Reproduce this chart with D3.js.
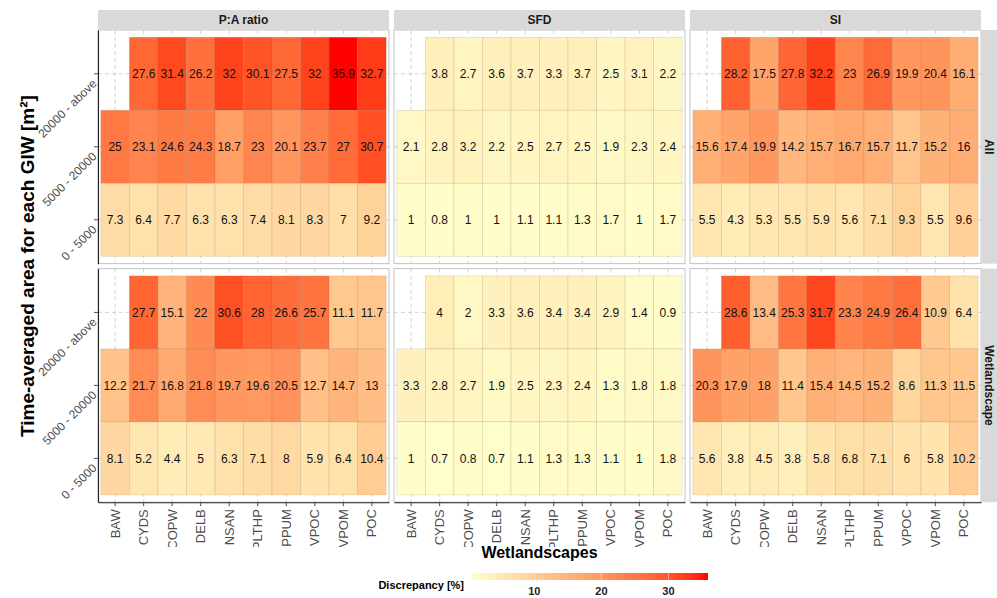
<!DOCTYPE html>
<html>
<head>
<meta charset="utf-8">
<script src="https://cdn.jsdelivr.net/npm/d3@7"></script>
<style>
  body { margin: 0; background: #fff; }
  svg { font-family: "Liberation Sans", Arial, sans-serif; display: block; }
</style>
</head>
<body>
<div id="chart"></div>
<script>
// Discrepancy heatmap, faceted by metric (columns) and group (rows)

const wetlandscapes = ["BAW", "CYDS", "COPW", "DELB", "NSAN", "PLTHP", "PPUM", "VPOC", "VPOM", "POC"];
const areaClasses = ["20000 - above", "5000 - 20000", "0 - 5000"]; // top to bottom
const metrics = ["P:A ratio", "SFD", "SI"];
const groups = ["All", "Wetlandscape"];
const legendTicks = [10, 20, 30];

// values per area class, in the wetlandscapes order (null = no tile)
const allPA = [
  [null, 27.6, 31.4, 26.2, 32, 30.1, 27.5, 32, 35.9, 32.7],
  [25, 23.1, 24.6, 24.3, 18.7, 23, 20.1, 23.7, 27, 30.7],
  [7.3, 6.4, 7.7, 6.3, 6.3, 7.4, 8.1, 8.3, 7, 9.2]
];
const allSFD = [
  [null, 3.8, 2.7, 3.6, 3.7, 3.3, 3.7, 2.5, 3.1, 2.2],
  [2.1, 2.8, 3.2, 2.2, 2.5, 2.7, 2.5, 1.9, 2.3, 2.4],
  [1, 0.8, 1, 1, 1.1, 1.1, 1.3, 1.7, 1, 1.7]
];
const allSI = [
  [null, 28.2, 17.5, 27.8, 32.2, 23, 26.9, 19.9, 20.4, 16.1],
  [15.6, 17.4, 19.9, 14.2, 15.7, 16.7, 15.7, 11.7, 15.2, 16],
  [5.5, 4.3, 5.3, 5.5, 5.9, 5.6, 7.1, 9.3, 5.5, 9.6]
];
const wlPA = [
  [null, 27.7, 15.1, 22, 30.6, 28, 26.6, 25.7, 11.1, 11.7],
  [12.2, 21.7, 16.8, 21.8, 19.7, 19.6, 20.5, 12.7, 14.7, 13],
  [8.1, 5.2, 4.4, 5, 6.3, 7.1, 8, 5.9, 6.4, 10.4]
];
const wlSFD = [
  [null, 4, 2, 3.3, 3.6, 3.4, 3.4, 2.9, 1.4, 0.9],
  [3.3, 2.8, 2.7, 1.9, 2.5, 2.3, 2.4, 1.3, 1.8, 1.8],
  [1, 0.7, 0.8, 0.7, 1.1, 1.3, 1.3, 1.1, 1, 1.8]
];
const wlSI = [
  [null, 28.6, 13.4, 25.3, 31.7, 23.3, 24.9, 26.4, 10.9, 6.4],
  [20.3, 17.9, 18, 11.4, 15.4, 14.5, 15.2, 8.6, 11.3, 11.5],
  [5.6, 3.8, 4.5, 3.8, 5.8, 6.8, 7.1, 6, 5.8, 10.2]
];

const panelData = {
  "All": { "P:A ratio": allPA, "SFD": allSFD, "SI": allSI },
  "Wetlandscape": { "P:A ratio": wlPA, "SFD": wlSFD, "SI": wlSI }
};

// long table of tiles
const tiles = [];
groups.forEach(g => metrics.forEach(m => {
  panelData[g][m].forEach((row, ri) => row.forEach((v, ci) => {
    if (v !== null) tiles.push({ group: g, metric: m, area: areaClasses[ri], site: wetlandscapes[ci], value: v });
  }));
}));

const W = 997, H = 598;
const svg = d3.select("#chart").append("svg").attr("width", W).attr("height", H);

// layout
const p_l = 98, p_t = 30, stripH = 20;
const panelW = 291, panelH = 233.6, gap = 5;
const panelX = metrics.map((m, i) => p_l + i * (panelW + gap));
const panelY = groups.map((g, i) => p_t + i * (panelH + gap));
const rightEdge = panelX[2] + panelW;
const bottomEdge = panelY[1] + panelH;

const xScale = d3.scaleBand().domain(wetlandscapes).range([0, panelW]).paddingInner(0).paddingOuter(0.1);
const yScale = d3.scaleBand().domain(areaClasses).range([0, panelH]).paddingInner(0).paddingOuter(0.1);

const vmin = d3.min(tiles, d => d.value), vmax = d3.max(tiles, d => d.value);
const color = d3.scaleLinear().domain([vmin, vmax]).range(["#FFFFCC", "#FF0000"]).interpolate(d3.interpolateLab);

const grey = "#4d4d4d";

// clip for x tick labels (cut at the bottom like the original)
svg.append("defs").append("clipPath").attr("id", "xclip")
  .append("rect").attr("x", 0).attr("y", 0).attr("width", W).attr("height", 547);

// panels
groups.forEach((g, gi) => metrics.forEach((m, mi) => {
  const panel = svg.append("g").attr("transform", `translate(${panelX[mi]},${panelY[gi]})`);
  panel.append("rect").attr("width", panelW).attr("height", panelH).attr("fill", "#fff");

  // dashed grid
  panel.selectAll(".gx").data(wetlandscapes).enter().append("line")
    .attr("x1", d => xScale(d) + xScale.bandwidth() / 2).attr("x2", d => xScale(d) + xScale.bandwidth() / 2)
    .attr("y1", 0).attr("y2", panelH)
    .attr("stroke", "#c8c8c8").attr("stroke-width", 0.8).attr("stroke-dasharray", "4,3");
  panel.selectAll(".gy").data(areaClasses).enter().append("line")
    .attr("y1", d => yScale(d) + yScale.bandwidth() / 2).attr("y2", d => yScale(d) + yScale.bandwidth() / 2)
    .attr("x1", 0).attr("x2", panelW)
    .attr("stroke", "#c8c8c8").attr("stroke-width", 0.8).attr("stroke-dasharray", "4,3");

  const sub = tiles.filter(d => d.group === g && d.metric === m);
  panel.selectAll(".tile").data(sub).enter().append("rect")
    .attr("x", d => xScale(d.site)).attr("y", d => yScale(d.area))
    .attr("width", xScale.bandwidth()).attr("height", yScale.bandwidth())
    .attr("fill", d => color(d.value))
    .attr("stroke", "rgba(120,80,40,0.2)").attr("stroke-width", 0.7);

  panel.selectAll(".lab").data(sub).enter().append("text")
    .attr("x", d => xScale(d.site) + xScale.bandwidth() / 2)
    .attr("y", d => yScale(d.area) + yScale.bandwidth() / 2)
    .attr("dy", "0.36em").attr("text-anchor", "middle")
    .attr("font-size", 12).attr("fill", "#111")
    .text(d => d.value);

  panel.append("rect").attr("width", panelW).attr("height", panelH)
    .attr("fill", "none").attr("stroke", "#c4c4c4").attr("stroke-width", 1);

  // left axis on first column
  if (mi === 0) {
    const ax = panel.append("g").call(d3.axisLeft(yScale).tickSize(4).tickSizeOuter(0).tickPadding(2));
    ax.select(".domain").attr("stroke", "#222").attr("stroke-width", 1.1);
    ax.selectAll(".tick line").attr("stroke", grey);
    ax.selectAll(".tick text")
      .attr("fill", grey).attr("font-size", 12).attr("font-family", "Liberation Sans, Arial, sans-serif")
      .attr("text-anchor", "end").attr("dy", "0.4em")
      .attr("x", -4).attr("y", 7)
      .attr("transform", "rotate(-45,-4,7)");
  }
  // bottom axis on last row
  if (gi === 1) {
    const ax = panel.append("g").attr("transform", `translate(0,${panelH})`)
      .call(d3.axisBottom(xScale).tickSize(4).tickSizeOuter(0).tickPadding(2));
    ax.select(".domain").attr("stroke", "#222").attr("stroke-width", 1.1);
    ax.selectAll(".tick line").attr("stroke", grey);
    ax.selectAll(".tick text")
      .attr("fill", grey).attr("font-size", 13).attr("font-family", "Liberation Sans, Arial, sans-serif")
      .attr("text-anchor", "end").attr("dy", "0.35em").attr("y", 0)
      .attr("transform", "translate(0,7) rotate(-90)");
  }
}));

// move x tick labels under a clip
const xlabs = svg.append("g").attr("clip-path", "url(#xclip)");
svg.selectAll("g.tick text").each(function () {
  const t = this;
  if (t.getAttribute("transform") && t.getAttribute("transform").includes("rotate(-90)")) {
    const ctm = t.parentNode.getCTM();
    const wrap = xlabs.append("g").attr("transform", `translate(${ctm.e},${ctm.f})`);
    wrap.node().appendChild(t);
  }
});

// top strips
metrics.forEach((m, mi) => {
  svg.append("rect").attr("x", panelX[mi]).attr("y", p_t - stripH)
    .attr("width", panelW).attr("height", stripH).attr("fill", "#d9d9d9");
  svg.append("text").attr("x", panelX[mi] + panelW / 2).attr("y", p_t - stripH / 2)
    .attr("dy", "0.35em").attr("text-anchor", "middle")
    .attr("font-size", 12).attr("font-weight", "bold").attr("fill", "#1a1a1a").text(m);
});

// right strips
groups.forEach((g, gi) => {
  svg.append("rect").attr("x", rightEdge).attr("y", panelY[gi])
    .attr("width", 20).attr("height", panelH).attr("fill", "#d9d9d9");
  svg.append("text")
    .attr("transform", `translate(${rightEdge + 8.5},${panelY[gi] + panelH / 2}) rotate(90)`)
    .attr("dy", "0.35em").attr("text-anchor", "middle")
    .attr("font-size", 12).attr("font-weight", "bold").attr("fill", "#1a1a1a").text(g);
});

// axis titles
svg.append("text")
  .attr("transform", `translate(27,${(p_t + bottomEdge) / 2}) rotate(-90)`)
  .attr("text-anchor", "middle").attr("dy", "0.35em")
  .attr("font-size", 19).attr("font-weight", "bold").attr("fill", "#000")
  .text("Time-averaged area for each GIW [m²]");

svg.append("text")
  .attr("x", (p_l + rightEdge) / 2).attr("y", 558)
  .attr("text-anchor", "middle")
  .attr("font-size", 16).attr("font-weight", "bold").attr("fill", "#000")
  .text("Wetlandscapes");

// legend (colour bar)
const legScale = d3.scaleLinear().domain([vmin, vmax]).range([472, 708]);
const grad = svg.select("defs").append("linearGradient").attr("id", "legGrad");
d3.range(0, 1.0001, 0.05).forEach(t => {
  grad.append("stop").attr("offset", t).attr("stop-color", color(vmin + t * (vmax - vmin)));
});
svg.append("rect").attr("x", legScale(vmin)).attr("y", 573)
  .attr("width", legScale(vmax) - legScale(vmin)).attr("height", 7)
  .attr("fill", "url(#legGrad)");
svg.selectAll(".legtick").data(legendTicks).enter().append("line")
  .attr("x1", d => legScale(d)).attr("x2", d => legScale(d))
  .attr("y1", 573).attr("y2", 580).attr("stroke", "#fff").attr("stroke-opacity", 0.6).attr("stroke-width", 0.8);
svg.selectAll(".leglab").data(legendTicks).enter().append("text")
  .attr("x", d => legScale(d)).attr("y", 595).attr("text-anchor", "middle")
  .attr("font-size", 11).attr("font-weight", "bold").attr("fill", "#222")
  .text(d => d);
svg.append("text").attr("x", 464).attr("y", 589).attr("text-anchor", "end")
  .attr("font-size", 11).attr("font-weight", "bold").attr("fill", "#000")
  .text("Discrepancy [%]");
</script>
</body>
</html>
